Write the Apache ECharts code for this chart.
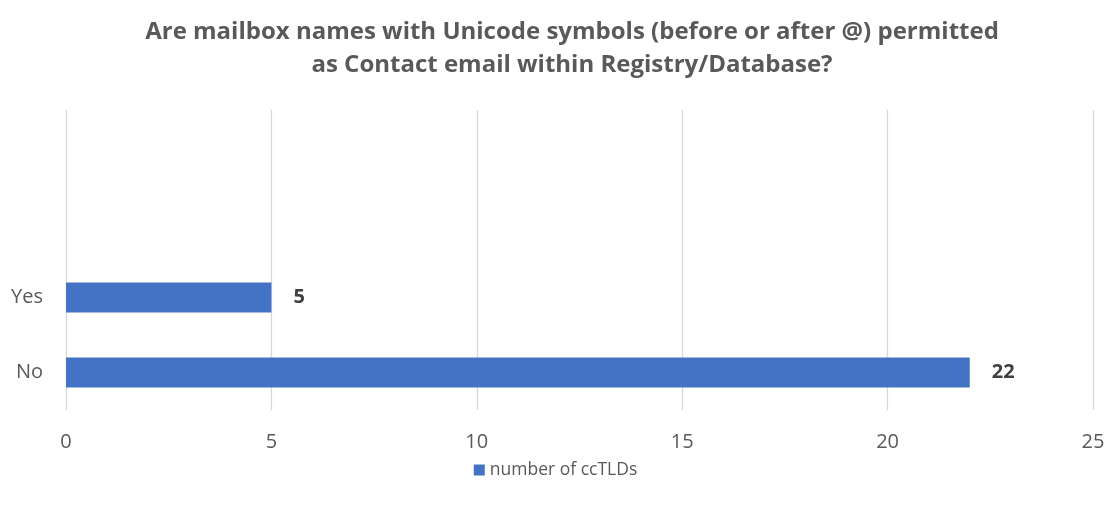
<!DOCTYPE html>
<html><head><meta charset="utf-8">
<script src="https://cdn.jsdelivr.net/npm/echarts@6/dist/echarts.min.js"></script>
<style>html,body{margin:0;padding:0;background:#fff}#c{width:1111px;height:507px}</style>
</head><body><div id="c"></div>
<script>
const titleLines = ['Are mailbox names with Unicode symbols (before or after @) permitted', 'as Contact email within Registry/Database?'];
const categories = ['No', 'Yes', '', ''];
const seriesName = 'number of ccTLDs';
const values = [22, 5, null, null];
const xTicks = [0, 5, 10, 15, 20, 25];

const chart = echarts.init(document.getElementById('c'), null, {renderer: 'canvas'});
chart.setOption({
  animation: false,
  title: {
    text: titleLines.join('\n'),
    left: 567, top: 11, textAlign: 'center',
    textStyle: {fontFamily: 'Open Sans', fontWeight: 'bold', fontSize: 24, color: '#595959', lineHeight: 33}
  },
  legend: {
    data: [seriesName], top: 456, left: 'center', itemWidth: 11, itemHeight: 11, itemGap: 6,
    icon: 'rect',
    textStyle: {fontFamily: 'Open Sans', fontSize: 17.5, color: '#595959'}
  },
  grid: {left: 66, right: 18, top: 110, bottom: 97, containLabel: false},
  xAxis: {
    type: 'value', min: xTicks[0], max: xTicks[xTicks.length - 1], interval: 5,
    axisLine: {show: false}, axisTick: {show: false},
    splitLine: {lineStyle: {color: '#d9d9d9', width: 1.3}},
    axisLabel: {fontFamily: 'Open Sans', fontSize: 20, color: '#595959', margin: 22}
  },
  yAxis: {
    type: 'category', data: categories,
    axisLine: {show: false}, axisTick: {show: false},
    axisLabel: {fontFamily: 'Open Sans', fontSize: 20, color: '#595959', margin: 23}
  },
  series: [{
    name: seriesName, type: 'bar', data: values, barWidth: '40%',
    itemStyle: {color: '#4472c4'},
    label: {show: true, position: 'right', distance: 22, fontFamily: 'Open Sans', fontWeight: 'bold', fontSize: 20, color: '#404040'}
  }]
});
</script></body></html>
